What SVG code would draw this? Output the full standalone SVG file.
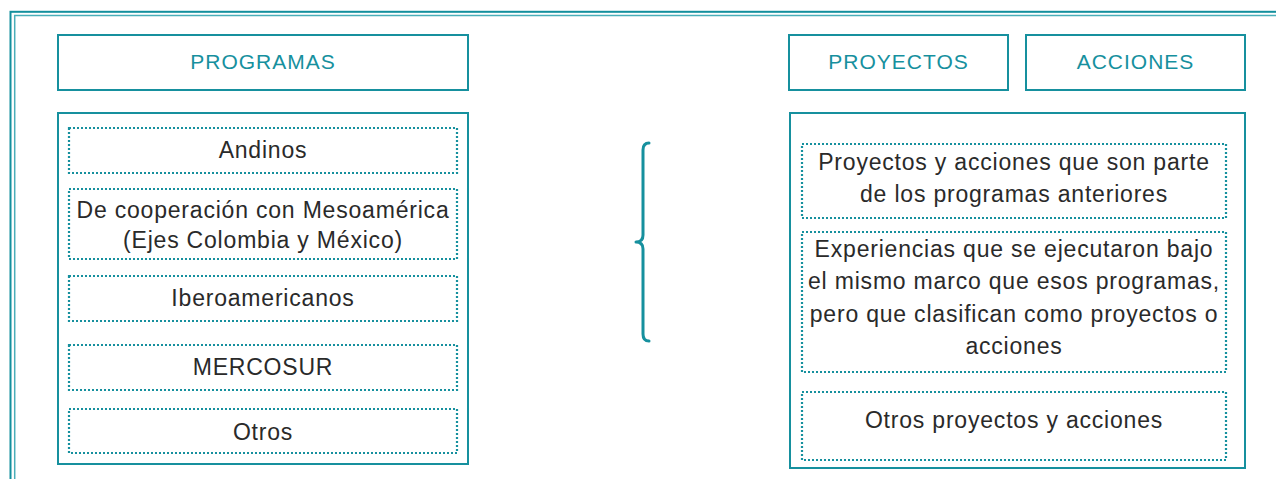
<svg xmlns="http://www.w3.org/2000/svg" width="1276" height="479" viewBox="0 0 1276 479">
<style>
.frame{fill:none;stroke:#138f9d;stroke-width:2}
.frame2{fill:none;stroke:#4aaeb9;stroke-width:1.5}
.box{fill:#fff;stroke:#16909e;stroke-width:2}
.dot{fill:none;stroke:#16909e;stroke-width:2.2;stroke-dasharray:2 2}
.hdr{font-family:"Liberation Sans",Arial,sans-serif;font-size:21px;letter-spacing:1px;fill:#16909e;text-anchor:middle;dominant-baseline:central}
.t{font-family:"Liberation Sans",Arial,sans-serif;font-size:23px;letter-spacing:0.8px;fill:#2a2a2a;text-anchor:middle;dominant-baseline:central}
.brace{fill:none;stroke:#16909e;stroke-width:3;stroke-linecap:round;stroke-linejoin:round}
</style>
<rect width="1276" height="479" fill="#fff"/>
<g id="frame">
<rect class="frame" x="10.5" y="11.8" width="1300" height="500"/>
<rect class="frame2" x="14.7" y="15.5" width="1300" height="500"/>
</g>
<g id="programas-header">
<rect class="box" x="58" y="35" width="410" height="55"/>
<text class="hdr" x="263" y="61">PROGRAMAS</text>
</g>
<g id="programas-list">
<rect class="box" x="58" y="113" width="410" height="351"/>
<g id="andinos"><rect class="dot" x="69" y="128" width="388" height="45"/><text class="t" x="263" y="150">Andinos</text></g>
<g id="mesoamerica"><rect class="dot" x="69" y="189" width="388" height="70"/><text class="t" x="263" y="210">De cooperación con Mesoamérica</text><text class="t" x="263" y="240">(Ejes Colombia y México)</text></g>
<g id="iberoamericanos"><rect class="dot" x="69" y="276" width="388" height="45"/><text class="t" x="263" y="298">Iberoamericanos</text></g>
<g id="mercosur"><rect class="dot" x="69" y="345" width="388" height="45"/><text class="t" x="263" y="367">MERCOSUR</text></g>
<g id="otros"><rect class="dot" x="69" y="409" width="388" height="44"/><text class="t" x="263" y="432">Otros</text></g>
</g>
<g id="connectors">
<path class="brace" d="M649,143 Q643,143 643,150 L643,235 Q643,242 636,242 Q643,242 643,249 L643,334 Q643,341 649,341"/>
</g>
<g id="proyectos-header">
<rect class="box" x="789" y="35" width="219" height="55"/>
<text class="hdr" x="898.5" y="61">PROYECTOS</text>
</g>
<g id="acciones-header">
<rect class="box" x="1026" y="35" width="219" height="55"/>
<text class="hdr" x="1135.5" y="61">ACCIONES</text>
</g>
<g id="proyectos-list">
<rect class="box" x="790" y="113" width="455" height="355"/>
<g id="parte"><rect class="dot" x="802" y="144" width="424" height="74"/><text class="t" x="1014" y="162">Proyectos y acciones que son parte</text><text class="t" x="1014" y="194">de los programas anteriores</text></g>
<g id="experiencias"><rect class="dot" x="802" y="232" width="424" height="140"/><text class="t" x="1014" y="249">Experiencias que se ejecutaron bajo</text><text class="t" x="1014" y="281">el mismo marco que esos programas,</text><text class="t" x="1014" y="314">pero que clasifican como proyectos o</text><text class="t" x="1014" y="346">acciones</text></g>
<g id="otros-proyectos"><rect class="dot" x="802" y="392" width="424" height="68"/><text class="t" x="1014" y="420">Otros proyectos y acciones</text></g>
</g>
</svg>
